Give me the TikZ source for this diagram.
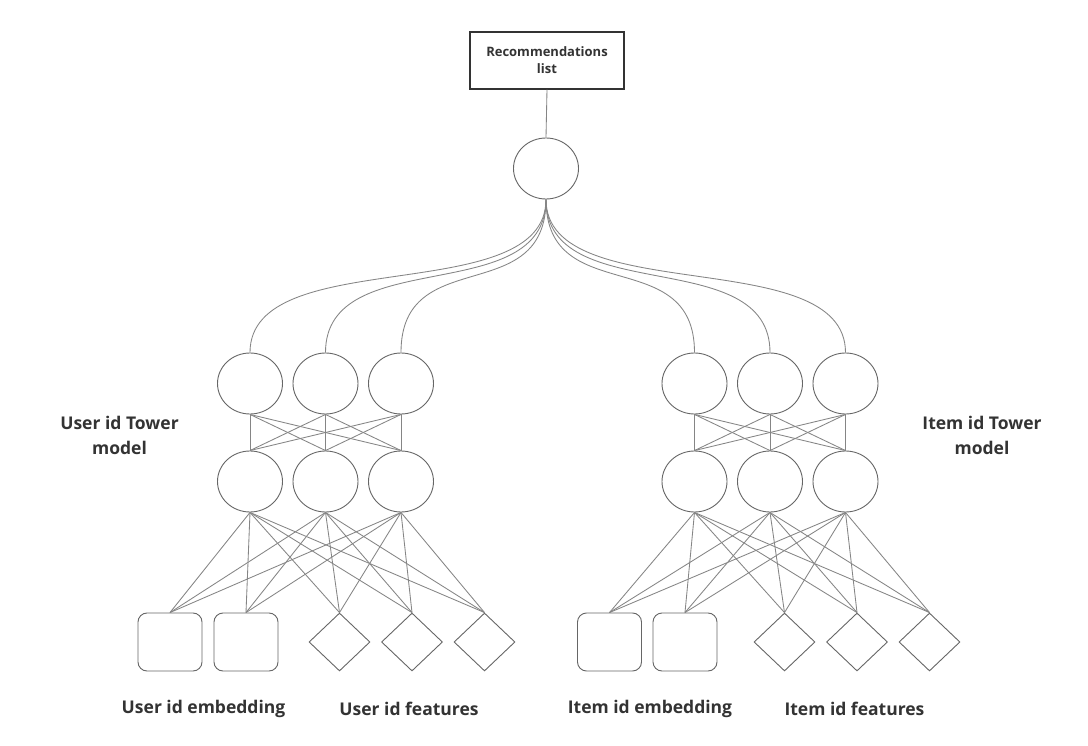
\documentclass[tikz,border=0pt]{standalone}
\usepackage{fontspec}
\setmainfont{Open Sans}
\usetikzlibrary{shapes.geometric}
\definecolor{txt}{HTML}{333333}
\definecolor{edge}{HTML}{858585}
\definecolor{outl}{HTML}{666666}
\tikzset{
  neuron/.style={ellipse, draw=outl, line width=0.9pt, minimum width=65pt, minimum height=61pt, inner sep=0pt},
  embbox/.style={rectangle, rounded corners=9pt, draw=outl, line width=0.9pt, minimum width=64pt, minimum height=58pt, inner sep=0pt},
  featbox/.style={diamond, draw=outl, line width=0.9pt, minimum width=61pt, minimum height=58pt, inner sep=0pt},
  link/.style={draw=edge, line width=0.85pt},
  lbl/.style={text=txt, font=\bfseries\fontsize{17.5}{25}\selectfont, align=center, inner sep=0pt},
  outbox/.style={rectangle, draw=txt, line width=1.1pt, minimum width=154pt, minimum height=57pt, align=center, text=txt, font=\bfseries\fontsize{13}{17}\selectfont}
}
\begin{document}
\begin{tikzpicture}[x=1pt,y=-1pt]
\useasboundingbox[fill=white] (0,0) rectangle (1088,746);
\node[outbox] (rec) at (547,60.5) {Recommendations\\list};
\node[neuron] (top) at (546,168.5) {};
\foreach \i/\x in {1/250,2/325.5,3/401}{
  \node[neuron] (uA\i) at (\x,383.5) {};
  \node[neuron] (uB\i) at (\x,481.5) {};
}
\foreach \i/\x in {1/694.5,2/770,3/845.5}{
  \node[neuron] (iA\i) at (\x,383.5) {};
  \node[neuron] (iB\i) at (\x,481.5) {};
}
\node[embbox] (uS1) at (170,642) {};
\node[embbox] (uS2) at (246,642) {};
\node[featbox] (uD1) at (339.5,642) {};
\node[featbox] (uD2) at (412,642) {};
\node[featbox] (uD3) at (484.5,642) {};
\node[embbox] (iS1) at (609.5,642) {};
\node[embbox] (iS2) at (685,642) {};
\node[featbox] (iD1) at (784.5,642) {};
\node[featbox] (iD2) at (857,642) {};
\node[featbox] (iD3) at (929.5,642) {};
\node[lbl] (ut) at (119.5,435.5) {User id Tower\\model};
\node[lbl] (it) at (982,435.5) {Item id Tower\\model};
\node[lbl] (ue) at (203.5,709) {User id embedding};
\node[lbl] (uf) at (409,709) {User id features};
\node[lbl] (ie) at (650,709) {Item id embedding};
\node[lbl] (if) at (854.5,709) {Item id features};
\draw[link] (rec.south) -- (top.north);
\foreach \t in {uA1,uA2,uA3,iA1,iA2,iA3}{
  \draw[link] (top.south) .. controls +(0,110) and +(0,-110) .. (\t.north);
}
\foreach \a in {1,2,3}{
  \foreach \b in {1,2,3}{
    \draw[link] (uA\a.south) -- (uB\b.north);
    \draw[link] (iA\a.south) -- (iB\b.north);
  }
  \foreach \s in {uS1,uS2,uD1,uD2,uD3}{
    \draw[link] (uB\a.south) -- (\s.north);
  }
  \foreach \s in {iS1,iS2,iD1,iD2,iD3}{
    \draw[link] (iB\a.south) -- (\s.north);
  }
}
\end{tikzpicture}
\end{document}
